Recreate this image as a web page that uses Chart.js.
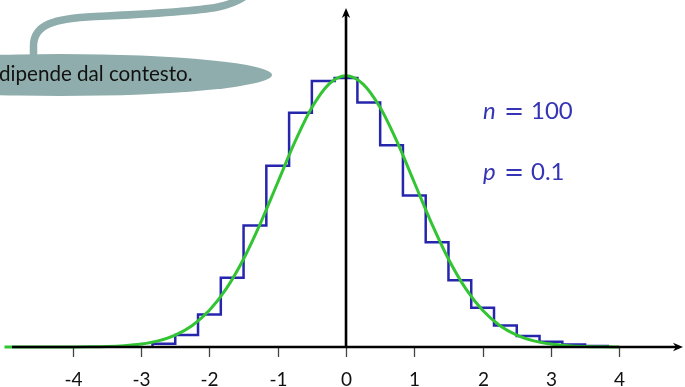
<!DOCTYPE html>
<html><head><meta charset="utf-8">
<script src="https://cdn.jsdelivr.net/npm/chart.js@4/dist/chart.umd.min.js"></script>
<style>html,body{margin:0;padding:0;background:#fff;overflow:hidden}canvas{display:block}</style>
</head><body>
<canvas id="c" width="685" height="387"></canvas>
<script>
// Binomial B(n, p) standardised, compared with the standard normal density
const n = 100;
const p = 0.1;

// number of successes k and P(X = k)
const successes = [2, 3, 4, 5, 6, 7, 8, 9, 10, 11, 12, 13, 14, 15, 16, 17, 18, 19, 20, 21];
const binomialProb = [0.0016, 0.0059, 0.0159, 0.0339, 0.0596, 0.0889, 0.1148, 0.1304, 0.1319, 0.1199,
                      0.0989, 0.0743, 0.0513, 0.0327, 0.0193, 0.0106, 0.0054, 0.0026, 0.0012, 0.0005];

// standard normal density sampled along z
const zGrid = [-5, -4.75, -4.5, -4.25, -4, -3.75, -3.5, -3.25, -3, -2.75, -2.5, -2.25, -2, -1.75, -1.5, -1.25,
               -1, -0.75, -0.5, -0.25, 0, 0.25, 0.5, 0.75, 1, 1.25, 1.5, 1.75, 2, 2.25, 2.5, 2.75, 3,
               3.25, 3.5, 3.75, 4];
const normalDensity = [0, 0.000005, 0.000016, 0.000047, 0.000134, 0.000353, 0.000873, 0.002029, 0.004432,
                       0.009094, 0.017528, 0.03174, 0.053991, 0.086277, 0.129518, 0.182649, 0.241971,
                       0.301137, 0.352065, 0.386668, 0.398942, 0.386668, 0.352065, 0.301137, 0.241971,
                       0.182649, 0.129518, 0.086277, 0.053991, 0.03174, 0.017528, 0.009094, 0.004432,
                       0.002029, 0.000873, 0.000353, 0.000134];

const tickValues = [-4, -3, -2, -1, 0, 1, 2, 3, 4];
const tickLabels = ['-4', '-3', '-2', '-1', '0', '1', '2', '3', '4'];

const bubbleText = 'dipende dal contesto.';

// histogram outline in standardised units (area of each bin = probability)
const mu = n * p;
const sd = Math.sqrt(n * p * (1 - p));
const half = 0.5 / sd;
const histPoints = [{ x: (successes[0] - mu) / sd - half, y: 0 }];
successes.forEach((k, i) => histPoints.push({ x: (k - mu) / sd - half, y: binomialProb[i] * sd }));
histPoints.push({ x: (successes[successes.length - 1] - mu) / sd + half, y: 0 });

const curvePoints = zGrid.map((z, i) => ({ x: z, y: normalDensity[i] }));

const BLUE = '#2626ad';
const TEXT_BLUE = '#3434b4';

function arrowHead(ctx, x, y, angle) {
  ctx.save();
  ctx.translate(x, y);
  ctx.rotate(angle);
  ctx.beginPath();
  ctx.moveTo(0, 0);
  ctx.lineTo(-10, -4.2);
  ctx.lineTo(-7, 0);
  ctx.lineTo(-10, 4.2);
  ctx.closePath();
  ctx.fillStyle = '#000';
  ctx.fill();
  ctx.restore();
}

const decorations = {
  id: 'decorations',
  afterDatasetsDraw(chart) {
    const ctx = chart.ctx;
    const xs = chart.scales.x, ys = chart.scales.y;
    const x0 = xs.getPixelForValue(0);
    const y0 = ys.getPixelForValue(0);
    ctx.save();

    // tick marks and labels
    ctx.strokeStyle = '#444';
    ctx.lineWidth = 1.3;
    ctx.fillStyle = '#111';
    ctx.font = '19px Lato';
    ctx.textAlign = 'center';
    ctx.textBaseline = 'alphabetic';
    tickValues.forEach((v, i) => {
      const px = Math.round(xs.getPixelForValue(v)) + 0.5;
      ctx.beginPath();
      ctx.moveTo(px, y0 + 1);
      ctx.lineTo(px, y0 + 10);
      ctx.stroke();
      ctx.fillText(tickLabels[i], px, y0 + 39);
    });

    // axes with arrows
    ctx.strokeStyle = '#000';
    ctx.lineWidth = 2.6;
    ctx.beginPath();
    ctx.moveTo(12, y0);
    ctx.lineTo(chart.width - 6, y0);
    ctx.stroke();
    arrowHead(ctx, chart.width - 2, y0, 0);

    ctx.beginPath();
    ctx.moveTo(x0, y0);
    ctx.lineTo(x0, 14);
    ctx.stroke();
    arrowHead(ctx, x0, 8, -Math.PI / 2);

    // parameter labels
    ctx.fillStyle = TEXT_BLUE;
    ctx.textAlign = 'left';
    ctx.font = 'italic 24px Lato';
    ctx.fillText('n', 483, 119);
    ctx.fillText('p', 483, 180);
    ctx.font = '24px "DejaVu Sans"';
    ctx.textAlign = 'center';
    ctx.fillText('=', 514, 119);
    ctx.fillText('=', 514, 180);
    ctx.font = '24px Lato';
    ctx.textAlign = 'left';
    ctx.fillText('100', 531, 119);
    ctx.fillText('0.1', 531, 180);

    // speech bubble
    const grey = '#8fadac';
    ctx.strokeStyle = grey;
    ctx.lineWidth = 7.5;
    ctx.lineCap = 'butt';
    ctx.beginPath();
    ctx.moveTo(33.5, 62);
    ctx.lineTo(33.5, 46);
    ctx.bezierCurveTo(33.5, 24, 55, 18.5, 95, 16.5);
    ctx.bezierCurveTo(150, 14, 195, 11.5, 218, 7);
    ctx.bezierCurveTo(232, 4, 242, 0, 250, -8);
    ctx.stroke();

    ctx.fillStyle = grey;
    ctx.beginPath();
    ctx.ellipse(60, 75, 212, 21, 0, 0, Math.PI * 2);
    ctx.fill();

    // bubble text sized to run from the left edge to x = 193
    ctx.fillStyle = '#111';
    ctx.font = '20px Lato';
    const w20 = ctx.measureText(bubbleText).width;
    const size = Math.min(22, 20 * 194 / w20);
    ctx.font = size.toFixed(1) + 'px Lato';
    ctx.textAlign = 'left';
    ctx.fillText(bubbleText, -1, 81);

    ctx.restore();
  }
};

new Chart(document.getElementById('c'), {
  type: 'line',
  data: {
    datasets: [
      {
        label: 'normale',
        data: curvePoints,
        borderColor: '#33c433',
        borderWidth: 3,
        pointRadius: 0,
        cubicInterpolationMode: 'monotone',
        fill: false
      },
      {
        label: 'binomiale',
        data: histPoints,
        borderColor: BLUE,
        borderWidth: 2.5,
        pointRadius: 0,
        stepped: 'before',
        fill: false
      }
    ]
  },
  options: {
    responsive: false,
    animation: false,
    events: [],
    layout: { padding: 0 },
    plugins: { legend: { display: false }, tooltip: { enabled: false } },
    scales: {
      x: { type: 'linear', min: -5.066, max: 4.963, display: false },
      y: { type: 'linear', min: -0.0588, max: 0.5103, display: false }
    }
  },
  plugins: [decorations]
});
</script>
</body></html>
